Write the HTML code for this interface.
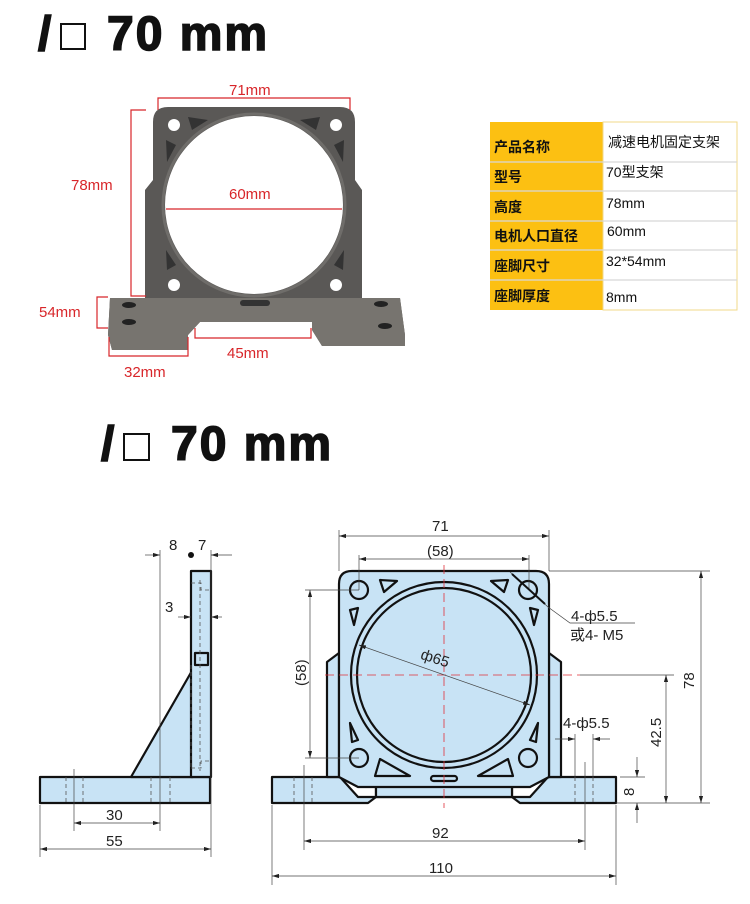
<!DOCTYPE html>
<html><head><meta charset="utf-8"><style>
html,body{margin:0;padding:0;background:#fff;}
svg{display:block;}
.h{font-family:"Liberation Sans",sans-serif;font-weight:bold;font-size:48px;fill:#111;stroke:#111;stroke-width:1.6;letter-spacing:2px;}
.r{font-family:"Liberation Sans",sans-serif;font-size:15px;fill:#d8262a;}
.d{font-family:"Liberation Sans","Noto Sans CJK SC",sans-serif;font-size:15px;fill:#222;}
.t{font-family:"Liberation Sans","Noto Sans CJK SC",sans-serif;font-size:14px;fill:#111;}
.tb{font-family:"Liberation Sans","Noto Sans CJK SC",sans-serif;font-size:14px;font-weight:bold;fill:#111;}
</style></head><body>
<svg width="750" height="904" viewBox="0 0 750 904" xmlns="http://www.w3.org/2000/svg">
<defs>
<marker id="a" viewBox="0 0 10 6" refX="10" refY="3" markerWidth="10" markerHeight="6" orient="auto-start-reverse"><path d="M0,0L10,3L0,6z" fill="#222"/></marker>
</defs>
<!-- heading 1 -->
<text class="h" x="38" y="50">/</text>
<rect x="61" y="24" width="24" height="25" fill="none" stroke="#111" stroke-width="2"/>
<text class="h" x="107" y="50">70 mm</text>

<!-- photo bracket -->
<g>
<path d="M110,298 L145,298 L145,190 L153,180 L153,122 Q153,107 168,107 L340,107 Q355,107 355,122 L355,180 L362,190 L362,298 L400,298 L405,335 L405,346 L322,346 L312,330 L312,322 L200,322 L188,335 L188,350 L112,350 L108,335 Z" fill="#5a5856"/>
<path d="M110,298 L400,298 L405,335 L405,346 L322,346 L312,330 L312,322 L200,322 L188,335 L188,350 L112,350 L108,335Z" fill="#77746f"/>
<circle cx="254" cy="205" r="89" fill="#fff"/>
<circle cx="254" cy="205" r="91" fill="none" stroke="#6f6d6a" stroke-width="3"/>
<circle cx="174" cy="125" r="6" fill="#fff"/><circle cx="336" cy="125" r="6" fill="#fff"/>
<circle cx="174" cy="285" r="6" fill="#fff"/><circle cx="336" cy="285" r="6" fill="#fff"/>
<path d="M188,117 L208,120 L192,130Z M320,117 L300,120 L316,130Z M166,140 L176,145 L167,162Z M344,140 L334,145 L343,162Z M166,250 L176,265 L167,270Z M344,250 L334,265 L343,270Z" fill="#333"/>
<ellipse cx="129" cy="305" rx="7" ry="3" fill="#222"/><ellipse cx="129" cy="322" rx="7" ry="3" fill="#222"/>
<ellipse cx="381" cy="304" rx="7" ry="3" fill="#222"/><ellipse cx="385" cy="326" rx="7" ry="3" fill="#222"/>
<rect x="240" y="300" width="30" height="6" rx="3" fill="#333"/>
</g>
<!-- photo dims -->
<g stroke="#d8262a" stroke-width="1.2" fill="none">
<path d="M158,110 V98 H350 V110"/>
<path d="M146,110 H131 V296 H146"/>
<path d="M166,209 H342"/>
<path d="M108,297 H97 V328 H108"/>
<path d="M109,337 V356 H188 V337"/>
<path d="M195,328 V338 H311 V328"/>
</g>
<text class="r" x="229" y="95">71mm</text>
<text class="r" x="71" y="190">78mm</text>
<text class="r" x="229" y="199">60mm</text>
<text class="r" x="39" y="317">54mm</text>
<text class="r" x="227" y="358">45mm</text>
<text class="r" x="124" y="377">32mm</text>

<!-- table -->
<rect x="490" y="122" width="113" height="188" fill="#fcc012"/>
<rect x="603" y="122" width="134" height="188" fill="#fff" stroke="#f1d98a" stroke-width="1"/>
<g stroke="#d8d8d8" stroke-width="1.2">
<line x1="490" y1="162" x2="737" y2="162"/><line x1="490" y1="191" x2="737" y2="191"/>
<line x1="490" y1="221" x2="737" y2="221"/><line x1="490" y1="250" x2="737" y2="250"/>
<line x1="490" y1="280" x2="737" y2="280"/>
</g>
<text class="tb" x="494" y="152">产品名称</text><text class="t" x="608" y="147">减速电机固定支架</text>
<text class="tb" x="494" y="182">型号</text><text class="t" x="606" y="177">70型支架</text>
<text class="tb" x="494" y="212">高度</text><text class="t" x="606" y="208">78mm</text>
<text class="tb" x="494" y="241">电机人口直径</text><text class="t" x="607" y="236">60mm</text>
<text class="tb" x="494" y="271">座脚尺寸</text><text class="t" x="606" y="266">32*54mm</text>
<text class="tb" x="494" y="301">座脚厚度</text><text class="t" x="606" y="302">8mm</text>

<!-- heading 2 -->
<text class="h" x="101" y="460">/</text>
<rect x="124" y="434" width="25" height="26" fill="none" stroke="#111" stroke-width="2"/>
<text class="h" x="171" y="460">70 mm</text>

<!-- side view -->
<g stroke="#111" stroke-width="2.2" fill="#c8e3f5" stroke-linejoin="round">
<rect x="40" y="777" width="170" height="26"/>
<path d="M131,777 L193,669 L193,777Z"/>
<rect x="191" y="571" width="20" height="206"/>
<rect x="195" y="653" width="13" height="12"/>
</g>
<g stroke="#555" stroke-width="0.8" stroke-dasharray="4,3" fill="none">
<path d="M66,777V803 M83,777V803 M151,777V803 M170,777V803 M200,580V771 M191,665V770"/>
<path d="M191,583 H201 V590 H210 M191,768 H201 V761 H210"/>
</g>
<g stroke="#444" stroke-width="0.7" fill="none">
<line x1="160" y1="550" x2="160" y2="831"/><line x1="211" y1="550" x2="211" y2="857"/>
<line x1="74" y1="769" x2="74" y2="831"/><line x1="40" y1="805" x2="40" y2="857"/>
<line x1="145" y1="555" x2="160" y2="555" marker-end="url(#a)"/><line x1="232" y1="555" x2="211" y2="555" marker-end="url(#a)"/>
<line x1="178" y1="617" x2="191" y2="617" marker-end="url(#a)"/><line x1="222" y1="617" x2="211" y2="617" marker-end="url(#a)"/>
<line x1="74" y1="823" x2="160" y2="823" marker-start="url(#a)" marker-end="url(#a)"/>
<line x1="40" y1="849" x2="211" y2="849" marker-start="url(#a)" marker-end="url(#a)"/>
</g>
<circle cx="191" cy="555" r="3" fill="#111"/>
<text class="d" x="169" y="550">8</text><text class="d" x="198" y="550">7</text>
<text class="d" x="165" y="612">3</text>
<text class="d" x="106" y="820">30</text><text class="d" x="106" y="846">55</text>

<!-- front view -->
<g stroke="#111" stroke-width="2.2" fill="#c8e3f5" stroke-linejoin="round">
<path d="M272,777 L340,777 L358,797 L376,797 L376,777 L512,777 L512,797 L530,797 L548,777 L616,777 L616,803 L520,803 L512,797 L376,797 L368,803 L272,803Z"/>
<path d="M376,777 H512 V797 H376Z"/>
<path d="M327,662 L339,653 L339,777 L327,777Z M561,662 L549,653 L549,777 L561,777Z"/>
<path d="M339,584 Q339,571 352,571 L536,571 Q549,571 549,584 L549,777 L530,787 L358,787 L339,777Z"/>
<circle cx="444" cy="675" r="93"/>
<circle cx="444" cy="675" r="87"/>
<circle cx="359" cy="590" r="9"/><circle cx="528" cy="590" r="9"/>
<circle cx="359" cy="758" r="9"/><circle cx="528" cy="758" r="9"/>
<path d="M380,580 L397,581 L384,592Z M508,580 L491,581 L504,592Z M350,610 L358,608 L354,625Z M538,610 L530,608 L534,625Z M350,723 L358,740 L352,742Z M538,723 L530,740 L536,742Z M380,759 L410,776 L375,776Z M508,759 L478,776 L513,776Z"/>
<rect x="431" y="776" width="26" height="5" rx="2.5"/>
</g>
<g stroke="#555" stroke-width="0.8" stroke-dasharray="4,3" fill="none">
<path d="M294,777V803 M312,777V803 M575,777V803 M593,777V803"/>
</g>
<g stroke="#e0303a" stroke-width="0.8" stroke-dasharray="9,5" fill="none">
<line x1="325" y1="675" x2="580" y2="675"/><line x1="444" y1="565" x2="444" y2="808"/>
</g>
<g stroke="#444" stroke-width="0.7" fill="none">
<line x1="339" y1="530" x2="339" y2="571"/><line x1="549" y1="530" x2="549" y2="571"/>
<line x1="339" y1="536" x2="549" y2="536" marker-start="url(#a)" marker-end="url(#a)"/>
<line x1="359" y1="555" x2="359" y2="590"/><line x1="529" y1="555" x2="529" y2="590"/>
<line x1="359" y1="559" x2="529" y2="559" marker-start="url(#a)" marker-end="url(#a)"/>
<line x1="549" y1="571" x2="710" y2="571"/><line x1="616" y1="803" x2="710" y2="803"/>
<line x1="701" y1="571" x2="701" y2="803" marker-start="url(#a)" marker-end="url(#a)"/>
<line x1="580" y1="675" x2="674" y2="675"/>
<line x1="666" y1="675" x2="666" y2="803" marker-start="url(#a)" marker-end="url(#a)"/>
<line x1="620" y1="777" x2="645" y2="777"/>
<line x1="637" y1="757" x2="637" y2="777" marker-end="url(#a)"/><line x1="637" y1="823" x2="637" y2="803" marker-end="url(#a)"/>
<line x1="305" y1="590" x2="359" y2="590"/><line x1="305" y1="758" x2="359" y2="758"/>
<line x1="310" y1="590" x2="310" y2="758" marker-start="url(#a)" marker-end="url(#a)"/>
<line x1="304" y1="765" x2="304" y2="850"/><line x1="585" y1="762" x2="585" y2="850"/>
<line x1="304" y1="841" x2="585" y2="841" marker-start="url(#a)" marker-end="url(#a)"/>
<line x1="272" y1="805" x2="272" y2="885"/><line x1="616" y1="805" x2="616" y2="885"/>
<line x1="272" y1="876" x2="616" y2="876" marker-start="url(#a)" marker-end="url(#a)"/>
<line x1="575" y1="734" x2="575" y2="777"/><line x1="593" y1="734" x2="593" y2="777"/>
<line x1="555" y1="739" x2="575" y2="739" marker-end="url(#a)"/><line x1="610" y1="739" x2="593" y2="739" marker-end="url(#a)"/>
<line x1="359" y1="645" x2="530" y2="705" marker-start="url(#a)" marker-end="url(#a)"/>
<path d="M510,572 L548,607 L570,623 L635,623"/>
</g>
<line x1="512" y1="574" x2="545" y2="604" stroke="#111" stroke-width="2"/>
<text class="d" x="432" y="531">71</text>
<text class="d" x="427" y="556">(58)</text>
<text class="d" x="571" y="621">4-ф5.5</text>
<text class="d" x="570" y="640">或4- M5</text>
<text class="d" x="563" y="728">4-ф5.5</text>
<text class="d" x="420" y="663" transform="rotate(18 434 660)">ф65</text>
<text class="d" x="432" y="838">92</text>
<text class="d" x="429" y="873">110</text>
<text class="d" transform="translate(306,686) rotate(-90)">(58)</text>
<text class="d" transform="translate(694,689) rotate(-90)">78</text>
<text class="d" transform="translate(661,747) rotate(-90)">42.5</text>
<text class="d" transform="translate(634,796) rotate(-90)">8</text>
</svg>
</body></html>
